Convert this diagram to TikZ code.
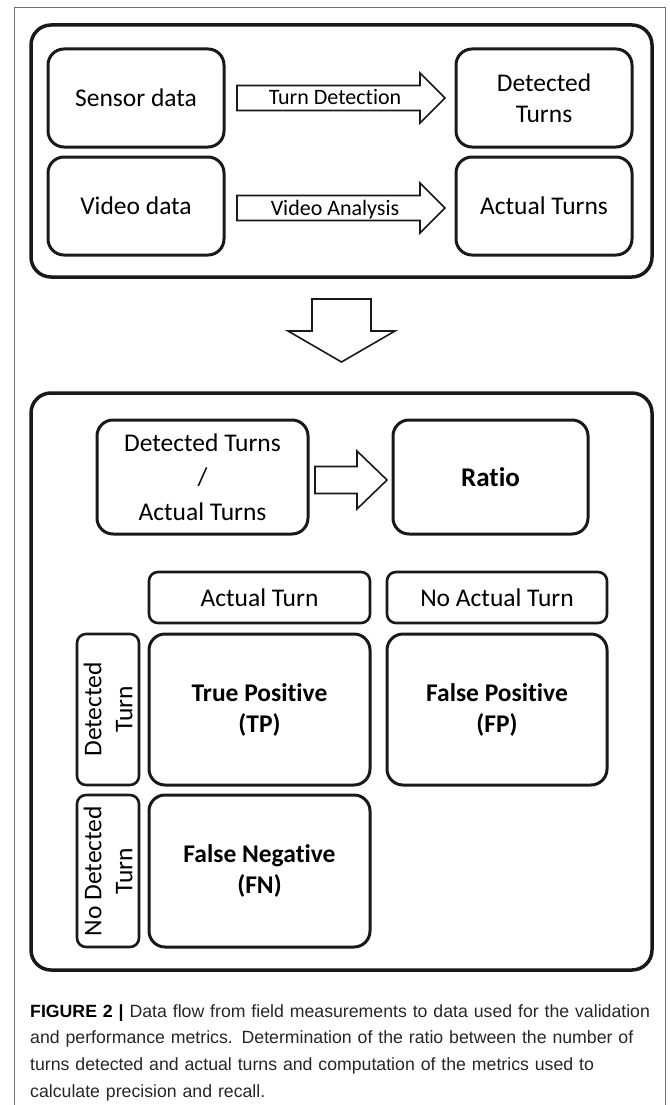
\documentclass[tikz,border=0pt]{standalone}
\usepackage{fontspec}
\setmainfont{Carlito}[Ligatures=NoCommon]
\newfontfamily\captionfont{Liberation Sans}
\usetikzlibrary{calc, shapes}

\begin{document}
\begin{tikzpicture}[x=1pt, y=-1pt]
    \tikzstyle{panel} = [draw=black!90, line width=3.5pt, rounded corners=20pt,
        outer sep=0pt, inner sep=0pt]
    \tikzstyle{databox} = [draw=black!90, line width=3pt, rounded corners=16pt,
        outer sep=0pt, align=center, font=\fontsize{25.5}{31}\selectfont]
    \tikzstyle{header} = [draw=black!90, line width=2.6pt, rounded corners=9pt,
        outer sep=0pt, inner sep=0pt, align=center, font=\fontsize{25.5}{31}\selectfont]
    \tikzstyle{blockarrow} = [draw=black!90, line width=1.6pt, fill=white, line join=miter]
    \tikzstyle{arrowlabel} = [anchor=base, inner sep=0pt, font=\fontsize{22}{26}\selectfont]

    \useasboundingbox (0,0) rectangle (669,1105);

    % Frame
    \draw[black!55, line width=0.9pt] (14,1105) -- (14,7) -- (665,7) -- (665,1105);

    % Field measurements ---------------------------------
    \node (panel1) at (341.5,151) [panel, minimum width=621pt, minimum height=252pt] {};

    \node (sensor) at (136,98) [databox, minimum width=176pt, minimum height=98pt] {Sensor data};
    \node (video) at ($(sensor) + (0,108)$) [databox, minimum width=176pt, minimum height=98pt] {Video data};
    \node (detected) at ($(sensor) + (408,0)$) [databox, minimum width=176pt, minimum height=98pt] {Detected\\Turns};
    \node (actual) at ($(video) + (408,0)$) [databox, minimum width=176pt, minimum height=98pt] {Actual Turns};

    \draw[blockarrow] ($(sensor.east) + (13,-12.5)$) -- ++(183,0) -- ++(0,-12.5) -- ++(25,25)
        -- ++(-25,25) -- ++(0,-12.5) -- ++(-183,0) -- cycle;
    \node (turnlbl) at ($(sensor.east) + (111,7)$) [arrowlabel] {Turn Detection};

    \draw[blockarrow] ($(video.east) + (13,-10.5)$) -- ++(183,0) -- ++(0,-12.5) -- ++(25,25)
        -- ++(-25,25) -- ++(0,-12.5) -- ++(-183,0) -- cycle;
    \node (vidlbl) at ($(video.east) + (111,9)$) [arrowlabel] {Video Analysis};
    % ---------------------------------------------------

    % Flow down
    \draw[blockarrow] ($(panel1.south) + (-29.5,22)$) -- ++(59,0) -- ++(0,32) -- ++(24,0)
        -- ++(-53.5,31) -- ++(-53.5,-31) -- ++(24,0) -- cycle;

    % Metrics -------------------------------------------
    \node (panel2) at ($(panel1.south) + (0,116)$) [panel, anchor=north, minimum width=621pt, minimum height=577pt] {};

    \node (detact) at (202.5,477) [databox, minimum width=211pt, minimum height=114pt,
        font=\fontsize{25.5}{34.5}\selectfont] {Detected Turns\\/\\Actual Turns};
    \node (ratio) at ($(detact) + (288,0)$) [databox, minimum width=195pt, minimum height=114pt,
        font=\fontsize{27}{31}\selectfont\bfseries] {Ratio};
    \draw[blockarrow] ($(detact.east) + (7,-10.5)$) -- ++(42,0) -- ++(0,-15.5) -- ++(30,29)
        -- ++(-30,29) -- ++(0,-15.5) -- ++(-42,0) -- cycle;

    % Confusion matrix
    \node (acthead) at (259.5,597.5) [header, minimum width=221pt, minimum height=51pt] {Actual Turn};
    \node (noacthead) at ($(acthead) + (237.5,0)$) [header, minimum width=220pt, minimum height=51pt] {No Actual Turn};

    \node (tp) at ($(acthead) + (0,112)$) [databox, minimum width=221pt, minimum height=151pt,
        font=\fontsize{25.5}{31}\selectfont\bfseries] {True Positive\\(TP)};
    \node (fp) at ($(noacthead) + (0,112)$) [databox, minimum width=220pt, minimum height=151pt,
        font=\fontsize{25.5}{31}\selectfont\bfseries] {False Positive\\(FP)};
    \node (fn) at ($(tp) + (0,161.5)$) [databox, minimum width=221pt, minimum height=152pt,
        font=\fontsize{25.5}{31}\selectfont\bfseries] {False Negative\\(FN)};

    \node (detside) at ($(tp) + (-151.5,0)$) [header, rotate=90, minimum width=151pt, minimum height=62pt] {Detected\\Turn};
    \node (nodetside) at ($(fn) + (-151.5,0)$) [header, rotate=90, minimum width=152pt, minimum height=62pt] {No Detected\\Turn};
    % ---------------------------------------------------

    % Caption
    \node (caption) at (30,1004) [anchor=north west, inner sep=0pt, text width=635pt, align=left,
        text=black!85, font=\captionfont\fontsize{17.7}{26.7}\selectfont]
        {\textcolor{black}{\textbf{FIGURE 2 |}} Data flow from field measurements to data used for the validation\\
        and performance metrics. Determination of the ratio between the number of\\
        turns detected and actual turns and computation of the metrics used to\\
        calculate precision and recall.};
\end{tikzpicture}
\end{document}
